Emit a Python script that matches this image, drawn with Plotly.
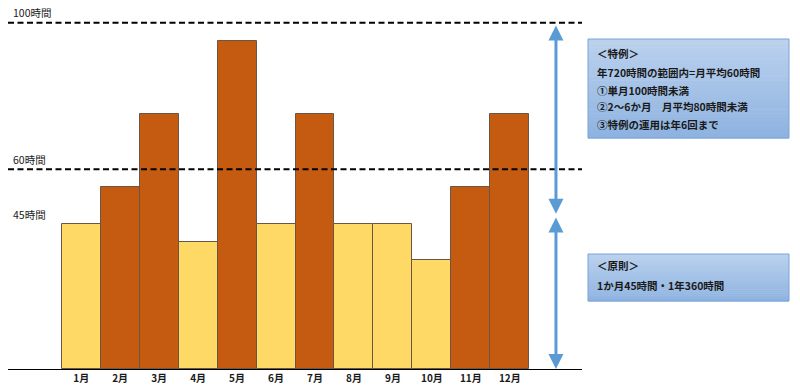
import plotly.graph_objects as go

# ---- data ----
months = ["1月", "2月", "3月", "4月", "5月", "6月", "7月", "8月", "9月", "10月", "11月", "12月"]
hours = [41.9, 52.5, 73.7, 36.7, 94.8, 41.9, 73.7, 41.9, 41.9, 31.4, 52.5, 73.7]
base_limit = 45          # 原則 (colour threshold)
line_levels = [100, 57.7]          # dashed reference lines
line_labels = ["100時間", "60時間"]
label45_level = 44.5
label45 = "45時間"
box_special = ["＜特例＞", "年720時間の範囲内=月平均60時間", "①単月100時間未満",
               "②2～6か月　月平均80時間未満", "③特例の運用は年6回まで"]
box_basic = ["＜原則＞", "1か月45時間・1年360時間"]

ORANGE = "#C55A11"
YELLOW = "#FFD966"
BLUE = "#5B9BD5"
FONT = "Noto Sans CJK JP"
TXT = "#1a1a1a"

# ---- layout geometry (pixels) ----
W, H = 800, 390
ML, MR, MT, MB = 8, 218, 0, 21
PW = W - ML - MR
PH = H - MT - MB


def px(x):
    return (x - ML) / PW


def py(y):
    return (H - MB - y) / PH


colors = [ORANGE if v > base_limit else YELLOW for v in hours]
xs = list(range(len(months)))

fig = go.Figure()
fig.add_trace(go.Bar(
    x=xs, y=hours, marker=dict(color=colors, line=dict(color="#6b5646", width=1)),
    width=1.0, hoverinfo="skip", showlegend=False,
))

shapes = []
for lv in line_levels:
    shapes.append(dict(type="line", xref="paper", x0=0, x1=1, yref="y", y0=lv, y1=lv,
                       line=dict(color="black", width=2, dash="6px,3.5px")))

# gradient boxes (strips)
def grad_box(x0, x1, y0, y1, n=24):
    top = (0xBB, 0xD1, 0xEE)
    bot = (0x8E, 0xB3, 0xE0)
    out = []
    for i in range(n):
        t = i / (n - 1)
        c = tuple(int(round(top[k] + (bot[k] - top[k]) * t)) for k in range(3))
        ya = y0 + (y1 - y0) * i / n
        yb = y0 + (y1 - y0) * (i + 1) / n
        out.append(dict(type="rect", xref="paper", yref="paper", x0=px(x0), x1=px(x1),
                        y0=py(ya), y1=py(yb + 0.6), line=dict(width=0),
                        fillcolor="rgb(%d,%d,%d)" % c, layer="above"))
    out.append(dict(type="rect", xref="paper", yref="paper", x0=px(x0), x1=px(x1),
                    y0=py(y0), y1=py(y1), line=dict(color="#7AA3D6", width=1),
                    fillcolor="rgba(0,0,0,0)", layer="above"))
    return out

shapes += grad_box(588, 789, 39, 138)
shapes += grad_box(588, 789, 254, 301)

annotations = []
for lv, lab in zip(line_levels, line_labels):
    annotations.append(dict(xref="paper", x=px(11), yref="y", y=lv, yshift=10, text=lab,
                            showarrow=False, xanchor="left", yanchor="middle",
                            font=dict(family=FONT, size=10.5, color=TXT)))
annotations.append(dict(xref="paper", x=px(11), yref="y", y=label45_level, yshift=0, text=label45,
                        showarrow=False, xanchor="left", yanchor="middle",
                        font=dict(family=FONT, size=10.5, color=TXT)))

for i, t in enumerate(box_special):
    ys = [53.3, 72.7, 90, 106.7, 124][i]
    annotations.append(dict(xref="paper", yref="paper", x=px(595), y=py(ys), text="<b>%s</b>" % t,
                            showarrow=False, xanchor="left", yanchor="middle",
                            font=dict(family=FONT, size=10.5, color=TXT)))
for i, t in enumerate(box_basic):
    ys = [265.7, 285][i]
    annotations.append(dict(xref="paper", yref="paper", x=px(595), y=py(ys), text="<b>%s</b>" % t,
                            showarrow=False, xanchor="left", yanchor="middle",
                            font=dict(family=FONT, size=10.5, color=TXT)))

# double-headed arrows
arrow_x = (556 - 81.2) / 38.97
for (y_tip, y_tail) in [(label45_level + 0.3, 99.6), (0, label45_level - 0.3)]:
    annotations.append(dict(x=arrow_x, y=y_tip, ax=arrow_x, ay=y_tail, xref="x", yref="y",
                            axref="x", ayref="y", text="", showarrow=True,
                            arrowhead=2, startarrowhead=2, arrowside="end+start",
                            arrowsize=1, startarrowsize=1, arrowwidth=3, arrowcolor=BLUE,
                            standoff=0, startstandoff=0))

fig.update_layout(
    width=W, height=H,
    margin=dict(l=ML, r=MR, t=MT, b=MB, pad=0),
    paper_bgcolor="white", plot_bgcolor="white",
    bargap=0,
    shapes=shapes, annotations=annotations,
    xaxis=dict(range=[-1.878, 12.852], tickmode="array", tickvals=xs,
               ticktext=["<b>%s</b>" % m for m in months],
               showline=True, linecolor="black", linewidth=1, ticks="",
               showgrid=False, zeroline=False, fixedrange=True,
               tickfont=dict(family=FONT, size=10, color=TXT)),
    yaxis=dict(range=[0, 106.55], visible=False, showgrid=False, zeroline=False, fixedrange=True),
)

fig.write_html("out.html", config={"displayModeBar": False},
               post_script="document.body.style.margin='0';document.body.style.overflow='hidden';")
